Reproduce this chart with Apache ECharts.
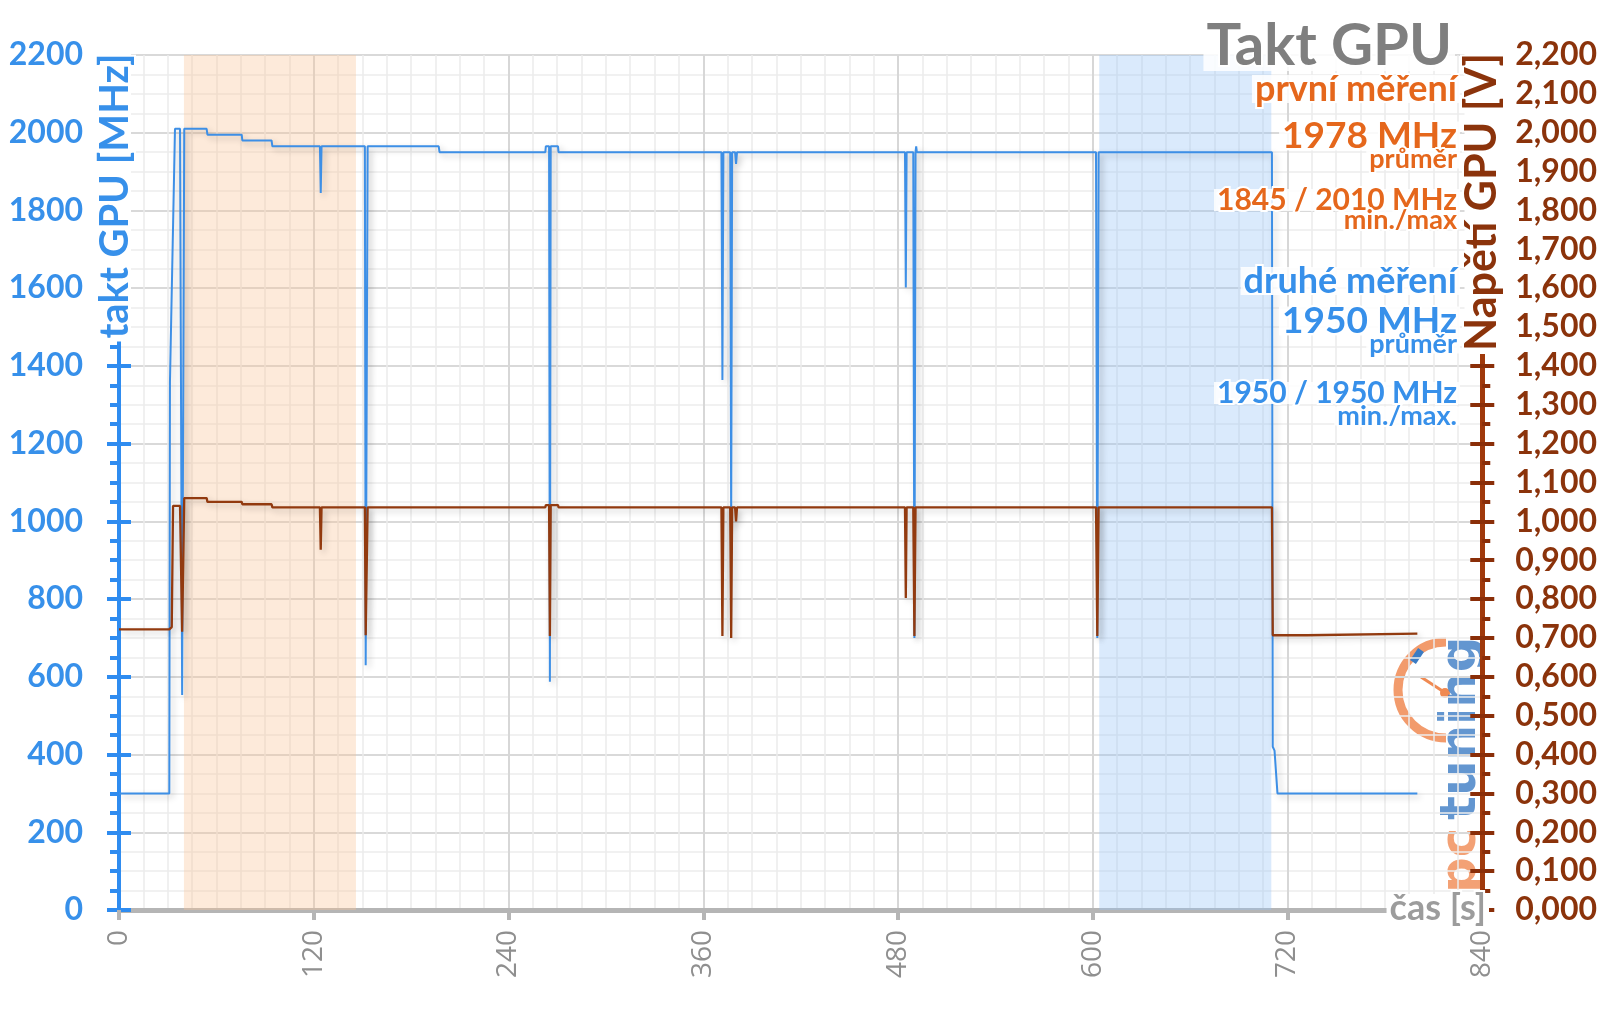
<!DOCTYPE html>
<html>
<head>
<meta charset="utf-8">
<script src="https://cdn.jsdelivr.net/npm/echarts@6/dist/echarts.min.js"></script>
<style>
html,body{margin:0;padding:0;background:#fff;}
#c{width:1600px;height:1009px;}
</style>
</head>
<body>
<div id="c"></div>
<script>
// ---- data ----
const clockT = [0,31,31.4,34.5,37.6,38.9,40.2,54,54.5,75.6,76,94,94.5,123.8,124.3,124.8,151.5,152,153.2,197,197.5,
  262.7,263,265,265.5,266,270.5,270.8,371.2,371.8,372.4,376.6,377.2,377.8,379.6,380.2,380.8,
  484.3,484.8,485.3,489.4,490.1,490.8,491.2,491.6,602,602.8,603.6,710.4,710.9,712,713.8,800];
const clockMHz = [300,300,1360,2010,2010,553,2010,2010,1995,1995,1980,1980,1965,1965,1845,1965,1965,630,1965,1965,1950,
  1950,1965,1965,587,1965,1965,1950,1950,1364,1950,1950,985,1950,1950,1920,1950,
  1950,1602,1950,1950,700,1950,1965,1950,1950,700,1950,1950,420,410,300,300];
const voltT = [0,31,32.5,33.3,37.6,38.9,40.2,54,54.5,75.6,76,94,94.5,123.8,124.3,124.8,151.5,152,153.2,
  262.7,263,265,265.5,266,270.5,270.8,371.2,371.8,372.4,376.6,377.2,377.8,379.6,380.2,380.8,
  484.3,484.8,485.3,489.4,490.1,490.8,602,602.8,603.6,710.4,710.9,732,732.5,800];
const voltV = [0.722,0.722,0.728,1.04,1.04,0.716,1.06,1.06,1.05,1.05,1.044,1.044,1.036,1.036,0.927,1.036,1.036,0.707,1.036,
  1.036,1.042,1.042,0.705,1.042,1.042,1.036,1.036,0.705,1.036,1.036,0.70,1.036,1.036,1.0,1.036,
  1.036,0.803,1.036,1.036,0.705,1.036,1.036,0.705,1.036,1.036,0.707,0.707,0.711,0.711];
const shadeOrange = [40, 146];
const shadeBlue = [604, 710];
const infoFirst = ['první měření', '1978 MHz', 'průměr', '1845 / 2010 MHz', 'min./max'];
const infoSecond = ['druhé měření', '1950 MHz', 'průměr', '1950 / 1950 MHz', 'min./max.'];

// ---- styles ----
const BLUE = '#3790ea';
const BLUE_LINE = '#3d8fe6';
const ORANGE = '#e5671c';
const BROWN = '#8b330b';
const BROWN_LINE = '#923a0f';
const GREY = '#8f8f8f';
const FONT = 'Lato, "Open Sans", sans-serif';

const clockData = clockT.map((t, i) => [t, clockMHz[i]]);
const voltData = voltT.map((t, i) => [t, voltV[i]]);

const chart = echarts.init(document.getElementById('c'), null, {renderer: 'canvas'});

function txt(text, x, y, size, color, align, rot, weight, bg) {
  return {
    type: 'text', x: x, y: y, rotation: rot || 0, z: 100, zlevel: 2, silent: true,
    style: {text: text, fill: color, font: (weight || 'bold') + ' ' + size + 'px ' + FONT,
      align: align || 'right', verticalAlign: 'middle',
      backgroundColor: bg || 'rgba(255,255,255,0.85)', padding: [-4, 3, -4, 3],
      stroke: '#ffffff', lineWidth: 4}
  };
}

const RX = 1460;
const sizes = [36, 37, 27, 30, 27];
const ysFirst = [89, 136, 159, 200, 220];
const ysSecond = [281, 321, 344, 393, 416];
const graphics = [];
graphics.push(txt('Takt GPU', 1455, 46, 58, '#7f7f7f', 'right'));
infoFirst.forEach((s, i) => graphics.push(txt(s, RX, ysFirst[i], sizes[i], ORANGE, 'right')));
infoSecond.forEach((s, i) => graphics.push(txt(s, RX, ysSecond[i], sizes[i], BLUE, 'right')));
graphics.push(txt('takt GPU [MHz]', 115, 196, 40, BLUE, 'center', Math.PI / 2, 'bold', '#ffffff'));
graphics.push(txt('Napětí GPU [V]', 1482, 202, 43, BROWN, 'center', Math.PI / 2, 'bold', '#ffffff'));
graphics.push(txt('čas [s]', 1489, 908, 36, '#9c9c9c', 'right', 0, 'bold', '#ffffff'));
// logo watermark
graphics.push({
  type: 'group', z: 90, silent: true,
  children: [
    {type: 'arc', shape: {cx: 1446, cy: 690, r: 48, startAngle: Math.PI / 2, endAngle: Math.PI * 1.5, clockwise: true},
     style: {stroke: '#f08a52', lineWidth: 9, fill: null, opacity: 0.85}},
    {type: 'line', shape: {x1: 1421, y1: 677, x2: 1444, y2: 692}, style: {stroke: '#f08a52', lineWidth: 3}},
    {type: 'circle', shape: {cx: 1445, cy: 693, r: 5}, style: {fill: '#f08a52'}},
    {type: 'line', shape: {x1: 1413, y1: 662, x2: 1421, y2: 650}, style: {stroke: '#3c7cc4', lineWidth: 7}},
    {type: 'text', x: 1462, y: 893, rotation: Math.PI / 2,
     style: {text: 'pc', font: 'bold 50px "DejaVu Sans"', fill: '#f08a52', align: 'left', verticalAlign: 'middle', opacity: 0.8}},
    {type: 'text', x: 1462, y: 820, rotation: Math.PI / 2,
     style: {text: 'tuning', font: 'bold 50px "DejaVu Sans"', fill: '#3c7cc4', align: 'left', verticalAlign: 'middle', opacity: 0.8}}
  ]
});

const lineShadow = {shadowColor: 'rgba(0,0,0,0.22)', shadowBlur: 6, shadowOffsetX: 3, shadowOffsetY: 3};

const option = {
  backgroundColor: '#fff',
  animation: false,
  grid: {left: 119, right: 117, top: 55, bottom: 99, containLabel: false},
  xAxis: {
    type: 'value', min: 0, max: 840, interval: 120,
    axisLine: {show: true, lineStyle: {color: '#b5b5b5', width: 5}},
    axisTick: {show: true, length: 10, lineStyle: {color: '#b5b5b5', width: 4}},
    minorTick: {show: false, splitNumber: 8},
    axisLabel: {rotate: 90, color: GREY, fontSize: 28, fontFamily: '"Open Sans", sans-serif', margin: 20},
    splitLine: {show: true, lineStyle: {color: '#d7d7d7', width: 2}},
    minorSplitLine: {show: true, lineStyle: {color: '#ececec', width: 1.5}}
  },
  yAxis: [
    {
      type: 'value', position: 'left', min: 0, max: 2200, interval: 200,
      axisLine: {show: true, lineStyle: {color: '#2f8cf0', width: 4}},
      axisTick: {show: true, length: 12, lineStyle: {color: '#2f8cf0', width: 4}},
      minorTick: {show: true, splitNumber: 4, length: 9, lineStyle: {color: '#2f8cf0', width: 4}},
      axisLabel: {color: BLUE, fontSize: 32, fontWeight: 'bold', fontFamily: FONT, margin: 36,
        formatter: v => String(v)},
      splitLine: {show: true, lineStyle: {color: '#d9d9d9', width: 2}},
      minorSplitLine: {show: true, lineStyle: {color: '#ededed', width: 1.5}}
    },
    {
      type: 'value', position: 'right', min: 0, max: 2.2, interval: 0.1,
      axisLine: {show: true, lineStyle: {color: '#a0390b', width: 5}},
      axisTick: {show: true, length: 12, lineStyle: {color: '#8a2e08', width: 4}},
      minorTick: {show: true, splitNumber: 2, length: 8, lineStyle: {color: '#8a2e08', width: 4}},
      axisLabel: {color: BROWN, fontSize: 32, fontWeight: 'bold', fontFamily: FONT, margin: 33,
        formatter: v => v.toFixed(3).replace('.', ',')},
      splitLine: {show: false}
    },
    {
      type: 'value', position: 'left', min: 0, max: 2200, interval: 200,
      axisLine: {show: false}, axisLabel: {show: false}, splitLine: {show: false},
      axisTick: {show: true, inside: true, length: 12, lineStyle: {color: '#2f8cf0', width: 4}}
    },
    {
      type: 'value', position: 'right', min: 0, max: 2.2, interval: 0.1,
      axisLine: {show: false}, axisLabel: {show: false}, splitLine: {show: false},
      axisTick: {show: true, inside: true, length: 12, lineStyle: {color: '#8a2e08', width: 4}}
    }
  ],
  series: [
    {
      name: 'takt', type: 'line', yAxisIndex: 0, data: clockData, showSymbol: false, z: 3,
      lineStyle: Object.assign({color: BLUE_LINE, width: 2}, lineShadow),
      itemStyle: {color: BLUE_LINE},
      markArea: {
        silent: true,
        data: [
          [{xAxis: shadeOrange[0], itemStyle: {color: 'rgba(250,196,150,0.35)'}}, {xAxis: shadeOrange[1]}],
          [{xAxis: shadeBlue[0], itemStyle: {color: 'rgba(150,195,245,0.35)'}}, {xAxis: shadeBlue[1]}]
        ]
      }
    },
    {
      name: 'napeti', type: 'line', yAxisIndex: 1, data: voltData, showSymbol: false, z: 4,
      lineStyle: Object.assign({color: BROWN_LINE, width: 2.3}, lineShadow),
      itemStyle: {color: BROWN_LINE}
    }
  ],
  graphic: graphics
};
chart.setOption(option);
</script>
</body>
</html>
